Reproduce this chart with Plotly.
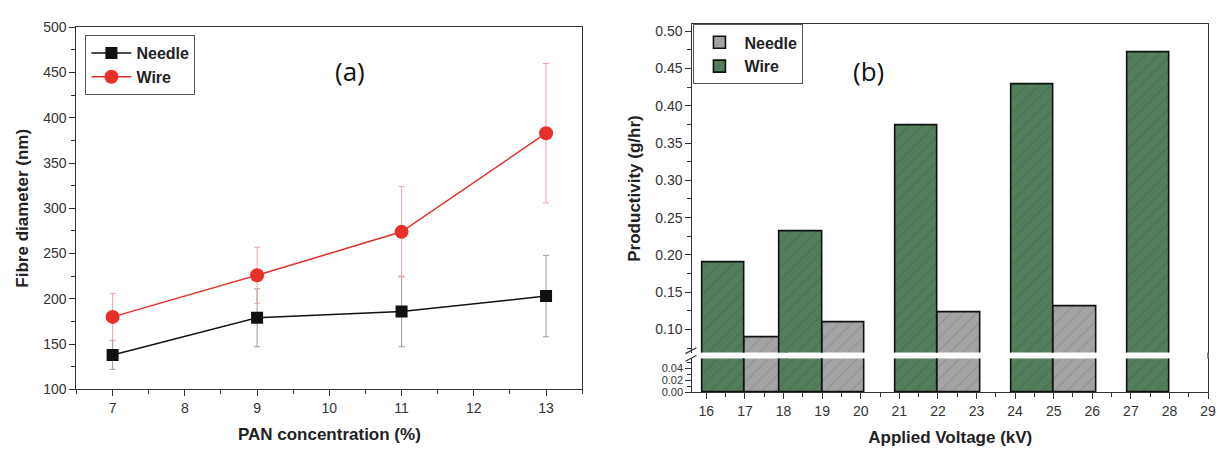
import plotly.graph_objects as go

# ---------------- data ----------------
# panel (a)
pan_conc = [7, 9, 11, 13]
needle_diam = [138, 179, 186, 203]
needle_err = [16, 32, 39, 45]
wire_diam = [180, 226, 274, 383]
wire_err = [26, 31, 50, 77]

# panel (b)
voltage_kv = [17, 19, 22, 25, 28]
wire_prod = [0.190, 0.232, 0.374, 0.429, 0.472]
needle_voltage_kv = [17, 19, 22, 25]
needle_prod = [0.089, 0.110, 0.123, 0.131]

W, H = 1228, 461
def px(x):
    return x / W
def py(y):
    return 1 - y / H

TICKFONT = dict(family="Liberation Sans, Arial", size=14, color="#333333")
TITLEFONT = dict(family="Liberation Sans, Arial", size=17, color="#222222", weight="bold")
LEGFONT = dict(family="Liberation Sans, Arial", size=16, color="#222222", weight="bold")

fig = go.Figure()

# ---------- panel (a) ----------
fig.add_trace(go.Scatter(
    x=pan_conc, y=needle_diam, name="Needle", mode="lines+markers",
    line=dict(color="#111111", width=1.5),
    marker=dict(symbol="square", size=12, color="#111111"),
    error_y=dict(type="data", array=needle_err, visible=True, color="#9a9a9a", thickness=1, width=3),
    xaxis="x", yaxis="y", legend="legend"))
fig.add_trace(go.Scatter(
    x=pan_conc, y=wire_diam, name="Wire", mode="lines+markers",
    line=dict(color="#E0322C", width=1.5),
    marker=dict(symbol="circle", size=14, color="#E8302A"),
    error_y=dict(type="data", array=wire_err, visible=True, color="#F2A3A3", thickness=1, width=3),
    xaxis="x", yaxis="y", legend="legend"))

# ---------- panel (b) ----------
needle_style = dict(color="#A4A4A4", line=dict(color="#111111", width=1.6),
                    pattern=dict(shape="/", bgcolor="#A4A4A4", fgcolor="#777777", size=9, solidity=0.12))
wire_style = dict(color="#537E5B", line=dict(color="#111111", width=1.6),
                  pattern=dict(shape="/", bgcolor="#537E5B", fgcolor="#3A5E41", size=9, solidity=0.12))

for ya, show in (("y3", True), ("y2", False)):
    fig.add_trace(go.Bar(x=needle_voltage_kv, y=needle_prod, name="Needle", offset=0, width=1.1,
                         marker=needle_style, xaxis="x2" if ya == "y2" else "x3", yaxis=ya,
                         showlegend=show, legend="legend2"))
    fig.add_trace(go.Bar(x=voltage_kv, y=wire_prod, name="Wire", offset=-1.1, width=1.1,
                         marker=wire_style, xaxis="x2" if ya == "y2" else "x3", yaxis=ya,
                         showlegend=show, legend="legend2"))

ax_common = dict(showline=True, linecolor="#333333", linewidth=1.3, ticks="outside",
                 ticklen=6, tickwidth=1.2, tickcolor="#333333", tickfont=TICKFONT,
                 showgrid=False, zeroline=False)

fig.update_layout(
    width=W, height=H, margin=dict(l=0, r=0, t=0, b=0),
    paper_bgcolor="white", plot_bgcolor="white",
    barmode="overlay", bargap=0,
    xaxis=dict(domain=[px(77), px(586)], range=[6.5, 13.5], tick0=7, dtick=1,
               mirror=True, anchor="y",
               minor=dict(dtick=0.5, ticks="outside", ticklen=4, tickcolor="#333333"),
               title=dict(text="PAN concentration (%)", font=TITLEFONT, standoff=12),
               **ax_common),
    yaxis=dict(domain=[py(395), py(20)], range=[100, 500], tick0=100, dtick=50,
               mirror=True, anchor="x",
               minor=dict(dtick=25, ticks="outside", ticklen=4, tickcolor="#333333"),
               title=dict(text="Fibre diameter (nm)", font=TITLEFONT, standoff=10),
               **ax_common),
    xaxis2=dict(domain=[px(697), px(1216)], range=[15.64, 29], tick0=16, dtick=1,
                anchor="y2",
                minor=dict(dtick=0.5, ticks="outside", ticklen=4, tickcolor="#333333"),
                title=dict(text="Applied Voltage (kV)", font=TITLEFONT, standoff=12),
                **ax_common),
    yaxis2=dict(domain=[py(398), py(363)], range=[0, 0.056], tickvals=[0, 0.02, 0.04],
                tickformat=".2f", anchor="x2", mirror=True,
                minor=dict(tickvals=[0.01, 0.03, 0.05], ticks="outside", ticklen=4, tickcolor="#333333"),
                **{**ax_common, "tickfont": dict(family="Liberation Sans, Arial", size=11, color="#333333")}),
    xaxis3=dict(domain=[px(697), px(1216)], range=[15.64, 29], matches="x2", anchor="y3",
                side="top", showline=True, linecolor="#333333", linewidth=1.3,
                showticklabels=False, ticks="", showgrid=False, zeroline=False),
    yaxis3=dict(domain=[py(357), py(17)], range=[0.069, 0.509], tick0=0, dtick=0.05,
                tickformat=".2f", anchor="x3", mirror=True,
                minor=dict(dtick=0.025, ticks="outside", ticklen=4, tickcolor="#333333"),
                title=dict(text="Productivity (g/hr)", font=TITLEFONT, standoff=10),
                **ax_common),
    legend=dict(x=px(86), y=py(28), xanchor="left", yanchor="top",
                bgcolor="white", bordercolor="#555555", borderwidth=1,
                font=LEGFONT, itemwidth=40, tracegroupgap=0),
    legend2=dict(x=px(698), y=py(17), xanchor="left", yanchor="top",
                 bgcolor="white", bordercolor="#555555", borderwidth=1,
                 font=LEGFONT, itemwidth=40, tracegroupgap=0),
    annotations=[
        dict(text="(a)", x=px(335), y=py(45), xref="paper", yref="paper", showarrow=False,
             font=dict(family="Open Sans", size=26, color="#111111")),
        dict(text="(b)", x=px(892), y=py(45), xref="paper", yref="paper", showarrow=False,
             font=dict(family="Open Sans", size=26, color="#111111")),
    ],
    shapes=[
        # break marks on the left axis of panel (b)
        dict(type="line", xref="paper", yref="paper", x0=px(690), y0=py(358), x1=px(701), y1=py(352),
             line=dict(color="#333333", width=1.3)),
        dict(type="line", xref="paper", yref="paper", x0=px(690), y0=py(366), x1=px(701), y1=py(360),
             line=dict(color="#333333", width=1.3)),
        # continuous right border of panel (b)
        dict(type="line", xref="paper", yref="paper", x0=px(1216), y0=py(357), x1=px(1216), y1=py(363),
             line=dict(color="#333333", width=1.3)),
    ],
)

fig.write_html("out.html", config={"displayModeBar": False, "responsive": False})

# remove the default page margin so the figure sits at the window's top-left corner
with open("out.html", encoding="utf-8") as f:
    html = f.read()
html = html.replace("<head>", "<head><style>html,body{margin:0;padding:0;overflow:hidden;}</style>", 1)
with open("out.html", "w", encoding="utf-8") as f:
    f.write(html)
